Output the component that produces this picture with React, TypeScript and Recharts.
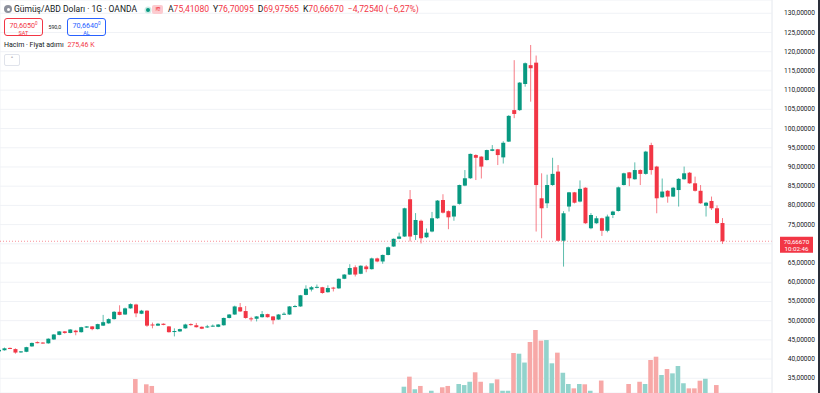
import { Bar, CartesianGrid, Cell, ComposedChart, ReferenceLine, XAxis, YAxis } from "recharts";

const GREEN = "#089981";
const RED = "#f23645";
const VOL_UP = "#92d3cc";
const VOL_DOWN = "#f7a8a7";
const TEXT = "#131722";

// daily candles, oldest first
const opens = [
  42.0, 42.3, 42.9, 42.6, 41.8, 41.9, 43.3, 44.4, 44.3, 44.1, 45.1, 46.3, 47.2, 46.8, 47.4, 47.0, 48.2, 48.5, 47.8, 48.7,
  49.3, 50.4, 52.3, 51.6, 53.2, 54.2, 51.8, 52.6, 49.0, 48.7, 49.2, 48.5, 47.1, 47.2, 48.0, 49.1, 48.8, 48.4, 48.3, 48.5,
  48.4, 48.8, 50.7, 51.6, 53.5, 52.5, 50.6, 50.5, 50.9, 51.7, 51.1, 50.3, 51.7, 51.6, 53.7, 53.7, 56.7, 58.1, 58.6, 58.7,
  57.4, 58.6, 58.4, 60.9, 62.0, 63.9, 62.2, 64.1, 63.4, 66.2, 65.4, 67.1, 69.3, 71.3, 71.9, 81.6, 72.3, 76.0, 71.7, 73.2,
  76.65, 81.4, 78.5, 77.1, 80.4, 85.15, 87.06, 93.1, 92.7, 91.8, 94.2, 94.6, 92.5, 96.6, 104.8, 104.8, 111.6, 116.5, 117.15, 81.85,
  80.55, 85.3, 88.8, 70.8, 79.7, 83.4, 81.0, 84.6, 74.05, 75.35, 76.65, 73.4, 77.5, 78.55, 85.3, 88.6, 86.8, 89.2, 88.2, 95.7,
  90.1, 82.1, 83.8, 82.3, 84.0, 86.8, 88.5, 85.75, 83.8, 79.9, 81.15, 79.25, 75.4108,
];
const highs = [
  42.6, 43.0, 43.0, 42.8, 42.1, 43.2, 44.3, 44.6, 44.4, 45.4, 46.5, 47.3, 47.3, 47.8, 47.6, 48.4, 48.6, 48.6, 49.2, 51.5,
  50.6, 52.5, 54.0, 53.4, 54.5, 54.4, 52.8, 52.7, 49.5, 49.4, 49.3, 48.6, 48.0, 47.9, 49.2, 49.3, 49.4, 48.5, 48.9, 49.0,
  49.1, 50.8, 51.7, 53.9, 54.6, 53.8, 51.0, 51.2, 52.5, 51.8, 51.2, 51.7, 52.2, 53.8, 54.1, 56.7, 59.2, 59.0, 59.4, 58.8,
  59.2, 58.8, 61.0, 62.1, 64.7, 64.4, 64.4, 64.5, 66.4, 66.4, 67.2, 69.3, 71.4, 72.9, 79.4, 84.0, 78.0, 76.3, 74.0, 78.3,
  81.4, 82.9, 78.7, 80.0, 85.4, 89.2, 93.5, 93.3, 92.8, 94.5, 95.7, 94.7, 96.7, 103.5, 117.8, 112.1, 117.2, 121.75, 119.0, 88.35,
  88.0, 92.4, 90.5, 78.5, 83.5, 83.5, 86.5, 84.7, 78.0, 77.2, 76.8, 77.6, 78.6, 84.9, 88.5, 88.7, 91.2, 89.4, 94.2, 96.3,
  90.3, 87.0, 84.0, 84.8, 87.1, 90.1, 88.7, 87.5, 85.3, 80.9, 82.3, 80.0, 76.70095,
];
const lows = [
  41.8, 42.2, 42.6, 41.4, 41.6, 41.8, 43.2, 44.1, 44.0, 44.0, 45.0, 46.2, 46.6, 46.7, 46.2, 46.9, 48.1, 47.5, 47.7, 48.6,
  49.2, 50.3, 51.4, 51.5, 53.1, 50.9, 51.7, 48.4, 48.0, 48.6, 48.8, 46.9, 45.9, 47.1, 47.9, 48.7, 48.2, 47.8, 48.1, 48.4,
  48.3, 48.7, 50.6, 51.5, 52.3, 50.5, 49.8, 49.8, 50.8, 50.8, 49.05, 50.2, 51.5, 51.5, 53.5, 53.6, 56.6, 57.6, 58.4, 57.0,
  57.3, 57.6, 58.3, 60.8, 61.9, 61.5, 62.1, 62.6, 63.3, 65.2, 64.8, 67.0, 69.2, 71.2, 71.8, 70.6, 71.0, 70.1, 71.5, 73.0,
  76.5, 77.9, 73.8, 76.0, 80.2, 85.0, 86.9, 86.6, 87.0, 91.7, 94.1, 90.5, 90.9, 96.5, 102.7, 104.6, 110.9, 107.0, 73.2, 71.45,
  79.3, 85.1, 70.6, 64.07, 78.4, 80.5, 80.8, 75.2, 73.8, 75.2, 72.05, 73.0, 76.7, 78.4, 85.2, 85.0, 86.7, 85.3, 88.0, 88.0,
  77.95, 82.0, 80.7, 82.2, 79.7, 86.7, 85.6, 83.6, 80.4, 77.1, 78.8, 75.2, 69.97565,
];
const closes = [
  42.4, 42.8, 42.7, 41.7, 42.0, 43.1, 44.2, 44.3, 44.1, 45.3, 46.4, 47.2, 46.8, 47.7, 47.0, 48.3, 48.5, 47.8, 49.1, 49.6,
  50.4, 52.3, 51.5, 53.2, 54.3, 51.9, 52.6, 48.7, 48.9, 49.2, 48.9, 47.0, 47.3, 47.8, 49.0, 48.9, 48.3, 47.9, 48.5, 48.7,
  49.0, 50.7, 51.6, 53.7, 52.4, 50.7, 50.4, 51.1, 51.7, 50.9, 50.1, 51.6, 51.8, 53.7, 53.8, 56.6, 58.3, 58.7, 58.8, 57.2,
  58.5, 58.4, 60.9, 62.0, 63.7, 62.0, 64.3, 63.4, 66.2, 65.4, 67.1, 69.1, 71.3, 71.9, 79.25, 71.9, 76.2, 71.45, 72.9, 76.65,
  81.25, 78.1, 76.9, 79.9, 85.3, 87.06, 93.4, 92.4, 90.1, 94.4, 94.6, 93.1, 96.3, 103.3, 103.8, 111.95, 117.0, 115.7, 85.3, 79.25,
  85.3, 88.2, 70.8, 77.95, 83.4, 80.7, 84.3, 75.35, 77.5, 76.65, 73.4, 77.1, 78.4, 84.7, 88.35, 87.05, 89.2, 88.2, 94.0, 89.2,
  81.85, 83.6, 82.3, 84.6, 86.9, 88.35, 85.75, 83.8, 80.55, 80.7, 79.25, 75.41, 70.6667,
];
// volume, thousands
const volumes = [
  220, 240, 210, 260, 230, 250, 270, 230, 220, 260, 280, 270, 240, 260, 280, 270, 240, 260, 280, 320,
  290, 320, 360, 300, 330, 473, 340, 438, 427, 300, 280, 330, 340, 290, 300, 260, 280, 290, 240, 230,
  250, 300, 290, 340, 360, 350, 300, 290, 310, 280, 320, 290, 260, 320, 280, 340, 360, 300, 290, 330,
  300, 280, 330, 320, 350, 360, 330, 340, 350, 330, 320, 340, 350, 360, 422, 489, 405, 427, 350, 395,
  370, 418, 427, 360, 440, 433, 455, 518, 455, 375, 445, 471, 395, 395, 647, 642, 583, 720, 800, 729,
  733, 578, 649, 515, 440, 411, 440, 438, 395, 370, 463, 360, 340, 375, 365, 440, 370, 455, 440, 600,
  622, 500, 540, 511, 560, 445, 411, 411, 462, 475, 370, 433, 275.46,
];
const monthStarts = [13, 36, 56, 78, 99, 119];
const priceTicks = [35, 40, 45, 50, 55, 60, 65, 70, 75, 80, 85, 90, 95, 100, 105, 110, 115, 120, 125, 130];
const ohlcItems = [
  ["A", "75,41080"],
  ["Y", "76,70095"],
  ["D", "69,97565"],
  ["K", "70,66670"],
  ["", "−4,72540 (−6,27%)"],
];

const VOL_FLOOR = 380;
const rows = opens.map((o, i) => ({
  i,
  open: o,
  high: highs[i],
  low: lows[i],
  close: closes[i],
  vol: volumes[i],
  volShown: Math.max(volumes[i], VOL_FLOOR),
}));
const last = rows[rows.length - 1];

const fmt = (v: number, d = 5) => v.toFixed(d).replace(".", ",");

function Candle(props: any) {
  const { x, y, width, height, payload } = props;
  if (!payload) return null;
  const { open, close, high, low } = payload;
  const color = close >= open ? GREEN : RED;
  const k = height / (high - low || 1);
  const yo = y + (high - open) * k;
  const yc = y + (high - close) * k;
  const cx = x + width / 2;
  return (
    <g>
      <line x1={cx} x2={cx} y1={y} y2={y + height} stroke={color} strokeWidth={1} strokeOpacity={0.65} />
      <rect x={x} y={Math.min(yo, yc)} width={width} height={Math.max(Math.abs(yo - yc), 1)} fill={color} />
    </g>
  );
}

function PriceTick(props: any) {
  const { x, y, payload } = props;
  // the live price tag covers this level
  if (Math.abs(payload.value - last.close) < 3) return null;
  return (
    <text x={x + 35} y={y} textAnchor="end" dominantBaseline="central" fontSize={6.6} fill={TEXT}>
      {fmt(payload.value)}
    </text>
  );
}

function PriceTag(props: any) {
  const vb = props.viewBox || {};
  const x = vb.x + vb.width + 8;
  const y = vb.y;
  return (
    <g>
      <rect x={x} y={y - 4.5} width={33} height={16} fill={RED} />
      <text x={x + 16.5} y={y + 0.3} textAnchor="middle" dominantBaseline="central" fontSize={6.2} fill="#fff">
        {fmt(last.close)}
      </text>
      <text x={x + 16.5} y={y + 7.3} textAnchor="middle" dominantBaseline="central" fontSize={6.2} fill="#fff">
        10:02:46
      </text>
    </g>
  );
}

const abs = (left: number, top: number, extra: any = {}) => ({ position: "absolute" as const, left, top, ...extra });

export default function App() {
  return (
    <div
      style={{
        position: "relative",
        width: 820,
        height: 393,
        background: "#fff",
        overflow: "hidden",
        fontFamily: "Roboto, 'Noto Sans', sans-serif",
        color: TEXT,
      }}
    >
      <style>{"body{margin:0}"}</style>
      <ComposedChart width={820} height={393} data={rows} margin={{ top: 0, right: 0, bottom: 0, left: 0 }}>
        <XAxis
          xAxisId="p"
          type="number"
          dataKey="i"
          domain={[0.228, 141.08]}
          allowDataOverflow
          ticks={monthStarts}
          height={0}
          tick={false}
          axisLine={false}
          tickLine={false}
        />
        <XAxis
          xAxisId="v"
          type="number"
          dataKey="i"
          domain={[0.228, 141.08]}
          allowDataOverflow
          height={0}
          tick={false}
          axisLine={false}
          tickLine={false}
        />
        <YAxis
          yAxisId="price"
          orientation="right"
          domain={[31.17, 133.46]}
          allowDataOverflow
          ticks={priceTicks}
          interval={0}
          width={48}
          axisLine={{ stroke: "#eceef2" }}
          tickLine={false}
          tick={<PriceTick />}
        />
        <YAxis yAxisId="vol" hide domain={[VOL_FLOOR, 3000]} allowDataOverflow />
        <CartesianGrid xAxisId="p" yAxisId="price" stroke="#f0f2f6" />
        <Bar xAxisId="v" yAxisId="vol" dataKey="volShown" barSize={4.6} isAnimationActive={false}>
          {rows.map((r) => (
            <Cell key={r.i} fill={r.close >= r.open ? VOL_UP : VOL_DOWN} />
          ))}
        </Bar>
        <ReferenceLine
          xAxisId="p"
          yAxisId="price"
          y={last.close}
          stroke={RED}
          strokeDasharray="1 2"
          strokeOpacity={0.55}
          label={<PriceTag />}
        />
        <Bar
          xAxisId="p"
          yAxisId="price"
          dataKey={(d: any) => [d.low, d.high]}
          barSize={4}
          shape={<Candle />}
          isAnimationActive={false}
        />
      </ComposedChart>

      <div style={abs(818, 0, { width: 2, height: 393, background: "#2a2e39" })} />

      {/* header */}
      <div style={abs(4, 5, { width: 8, height: 8, borderRadius: 4, background: "#8c909c" })} />
      <div style={abs(6.5, 7.5, { width: 3, height: 3, borderRadius: 2, background: "#fff" })} />
      <div style={abs(14, 3.5, { fontSize: 8.5, whiteSpace: "nowrap" })}>Gümüş/ABD Doları · 1G · OANDA</div>
      <div style={abs(145.5, 7.5, { width: 4, height: 4, borderRadius: 2, background: GREEN, boxShadow: "0 0 0 1.5px #cdebe5" })} />
      <div
        style={abs(152, 5, {
          width: 11,
          height: 9,
          borderRadius: 2,
          background: "#fccbd0",
          color: RED,
          fontSize: 7,
          lineHeight: "9px",
          textAlign: "center",
        })}
      >
        ≋
      </div>
      <div style={abs(168, 3.8, { fontSize: 8.6, whiteSpace: "nowrap", color: RED, display: "flex", gap: 4 })}>
        {ohlcItems.map(([k, v]) => (
          <span key={v}>
            {k && <span style={{ color: TEXT }}>{k}</span>}
            {v}
          </span>
        ))}
      </div>

      <div
        style={abs(4, 18, {
          width: 37,
          height: 16,
          border: `1px solid ${RED}`,
          borderRadius: 3,
          color: RED,
          textAlign: "center",
        })}
      >
        <div style={{ fontSize: 7.2, lineHeight: "8px", marginTop: 1 }}>
          70,6050<sup style={{ fontSize: 4.5 }}>0</sup>
        </div>
        <div style={{ fontSize: 5.5, lineHeight: "7px" }}>SAT</div>
      </div>
      <div style={abs(48.5, 24, { fontSize: 5.2 })}>590,0</div>
      <div
        style={abs(67, 18, {
          width: 37,
          height: 16,
          border: "1px solid #2962ff",
          borderRadius: 3,
          color: "#2962ff",
          textAlign: "center",
        })}
      >
        <div style={{ fontSize: 7.2, lineHeight: "8px", marginTop: 1 }}>
          70,6640<sup style={{ fontSize: 4.5 }}>0</sup>
        </div>
        <div style={{ fontSize: 5.5, lineHeight: "7px" }}>AL</div>
      </div>

      <div style={abs(4, 40.5, { fontSize: 7, whiteSpace: "nowrap" })}>
        Hacim · Fiyat adımı <span style={{ color: RED, marginLeft: 2 }}>275,46 K</span>
      </div>
      <div
        style={abs(4, 54, {
          width: 14,
          height: 10,
          border: "1px solid #e0e3eb",
          borderRadius: 2,
          fontSize: 7,
          lineHeight: "11px",
          textAlign: "center",
        })}
      >
        ˄
      </div>
    </div>
  );
}
